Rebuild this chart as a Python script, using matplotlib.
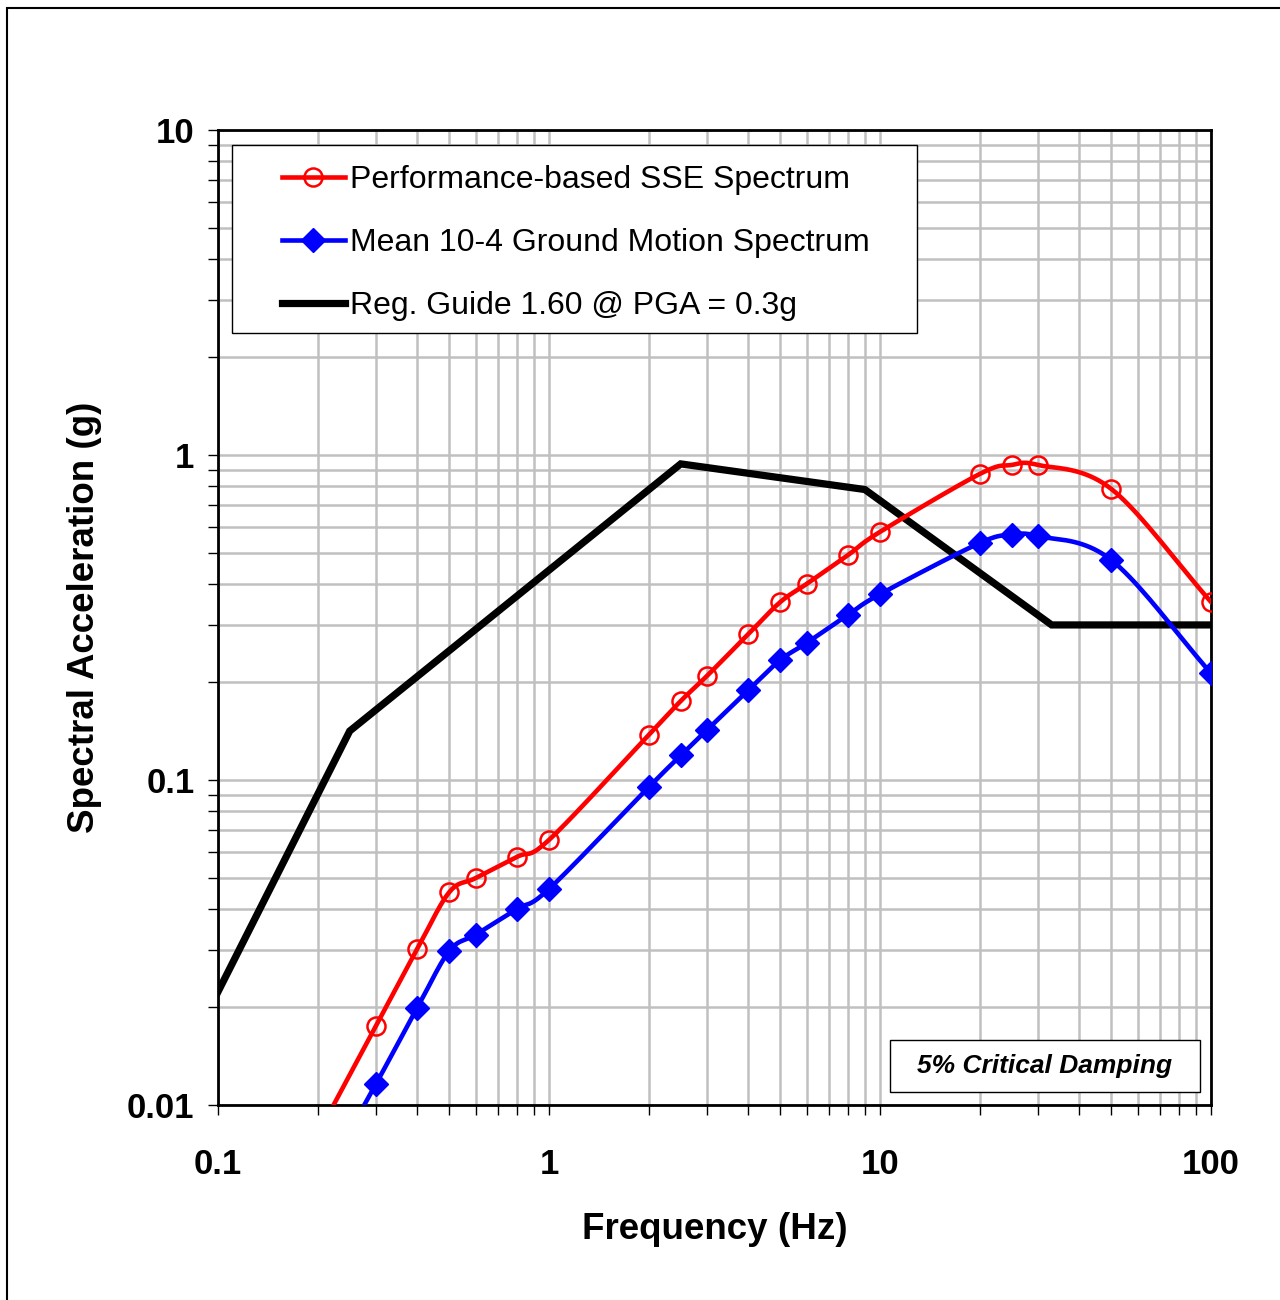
import numpy as np
import matplotlib
matplotlib.use('Agg')
import matplotlib.pyplot as plt
from matplotlib.patches import Rectangle

plt.rcParams['font.family'] = ['Liberation Sans', 'DejaVu Sans']

# Performance-based SSE spectrum (red, circles)
sse_freq = [0.2, 0.3, 0.4, 0.5, 0.6, 0.8, 1, 2, 2.5, 3, 4, 5, 6, 8, 10, 20, 25, 30, 50, 100]
sse_acc = [0.0081, 0.0175, 0.0302, 0.0452, 0.0499, 0.058, 0.0654, 0.1375, 0.175, 0.209,
           0.281, 0.353, 0.401, 0.492, 0.58, 0.874, 0.932, 0.932, 0.786, 0.353]

# Mean 10-4 ground motion spectrum (blue, diamonds)
gm_freq = [0.2, 0.3, 0.4, 0.5, 0.6, 0.8, 1, 2, 2.5, 3, 4, 5, 6, 8, 10, 20, 25, 30, 50, 100]
gm_acc = [0.0055, 0.0116, 0.0199, 0.0298, 0.0334, 0.0401, 0.0462, 0.095, 0.119, 0.1425,
          0.189, 0.234, 0.264, 0.322, 0.373, 0.536, 0.567, 0.563, 0.475, 0.213]

# Reg. Guide 1.60 anchored at PGA = 0.3g
rg_freq = [0.1, 0.25, 2.5, 9, 33, 100]
rg_acc = [0.0223, 0.1415, 0.939, 0.783, 0.3, 0.3]


def smooth(x, y, n=20):
    # catmull-rom through the points in log-log space (like a smoothed excel line)
    lx = np.log10(x)
    ly = np.log10(y)
    px = np.concatenate([[2 * lx[0] - lx[1]], lx, [2 * lx[-1] - lx[-2]]])
    py = np.concatenate([[2 * ly[0] - ly[1]], ly, [2 * ly[-1] - ly[-2]]])
    ox, oy = [], []
    t = np.linspace(0, 1, n, endpoint=False)
    h00 = 2 * t**3 - 3 * t**2 + 1
    h10 = t**3 - 2 * t**2 + t
    h01 = -2 * t**3 + 3 * t**2
    h11 = t**3 - t**2
    for i in range(1, len(px) - 2):
        for p, out in ((px, ox), (py, oy)):
            m1 = (p[i + 1] - p[i - 1]) / 2
            m2 = (p[i + 2] - p[i]) / 2
            out.extend(h00 * p[i] + h10 * m1 + h01 * p[i + 1] + h11 * m2)
    ox.append(lx[-1])
    oy.append(ly[-1])
    return 10 ** np.array(ox), 10 ** np.array(oy)


W, H = 1280, 1300
L, R, T, B = 218, 1211, 130, 1105


def ax_xy(px, py):
    # pixel position in the picture -> axes fraction
    return (px - L) / (R - L), (B - py) / (B - T)


fig = plt.figure(figsize=(12.8, 13), dpi=100)
ax = fig.add_axes([L / W, 1 - B / H, (R - L) / W, (B - T) / H])

sx, sy = smooth(sse_freq, sse_acc)
gx, gy = smooth(gm_freq, gm_acc)

lw_c = 3.3
red_mk = dict(marker='o', ms=13, mfc='none', mec='red', mew=1.8)
blue_mk = dict(marker='D', ms=12, mfc='blue', mec='blue', mew=1)

ax.plot(sx, sy, color='red', lw=lw_c, zorder=4)
ax.plot(sse_freq[1:], sse_acc[1:], ls='none', zorder=5, **red_mk)
ax.plot(gx, gy, color='blue', lw=lw_c, zorder=4)
ax.plot(gm_freq[1:], gm_acc[1:], ls='none', zorder=5, **blue_mk)
ax.plot(rg_freq, rg_acc, color='black', lw=5.2, solid_joinstyle='miter', zorder=3)

ax.set_xscale('log')
ax.set_yscale('log')
ax.set_xlim(0.1, 100)
ax.set_ylim(0.01, 10)

ax.grid(True, which='both', color='#c0c0c0', lw=1.8, zorder=0)
ax.set_axisbelow(True)
for s in ax.spines.values():
    s.set_linewidth(2)
ax.tick_params(which='both', direction='out', length=7, width=1, pad=10)
ax.tick_params(axis='x', which='major', pad=24)
ax.tick_params(which='minor', labelbottom=False, labelleft=False)

ax.set_xticks([0.1, 1, 10, 100])
ax.set_xticklabels(['0.1', '1', '10', '100'], fontsize=25, fontweight='bold')
ax.set_yticks([0.01, 0.1, 1, 10])
ax.set_yticklabels(['0.01', '0.1', '1', '10'], fontsize=25, fontweight='bold')

ax.set_xlabel('Frequency (Hz)', fontsize=26.5, fontweight='bold', labelpad=22)
ax.set_ylabel('Spectral Acceleration (g)', fontsize=26.5, fontweight='bold', labelpad=18)

# legend: box drawn by hand, entries from ax.legend without frame
lx0, ly0 = ax_xy(232, 333)
lx1, ly1 = ax_xy(917, 145)
ax.add_patch(Rectangle((lx0, ly0), lx1 - lx0, ly1 - ly0, transform=ax.transAxes,
                       fc='white', ec='black', lw=1, zorder=7))

h1, = ax.plot([], [], color='red', lw=lw_c, **red_mk)
h2, = ax.plot([], [], color='blue', lw=lw_c, **blue_mk)
h3, = ax.plot([], [], color='black', lw=5.2)
leg = ax.legend([h1, h2, h3],
                ['Performance-based SSE Spectrum', 'Mean 10-4 Ground Motion Spectrum',
                 'Reg. Guide 1.60 @ PGA = 0.3g'],
                loc='upper left', bbox_to_anchor=ax_xy(282, 165),
                fontsize=23, frameon=False,
                handlelength=1.96, handletextpad=0.16, labelspacing=1.04,
                borderpad=0, borderaxespad=0)
leg.set_zorder(8)

# damping note
dx0, dy0 = ax_xy(890, 1092)
dx1, dy1 = ax_xy(1200, 1040)
ax.add_patch(Rectangle((dx0, dy0), dx1 - dx0, dy1 - dy0, transform=ax.transAxes,
                       fc='white', ec='black', lw=1, zorder=6))
ax.text((dx0 + dx1) / 2, (dy0 + dy1) / 2, '5% Critical Damping', transform=ax.transAxes,
        ha='center', va='center', fontsize=19, fontweight='bold', style='italic', zorder=7)

# outer frame (cut off at the right and bottom like the source)
fig.patches.append(Rectangle((7 / W, -0.1), 1.2, 1 - 8 / H + 0.1,
                             transform=fig.transFigure, fill=False, ec='black', lw=1.5))

fig.savefig('out.png', dpi=100)
